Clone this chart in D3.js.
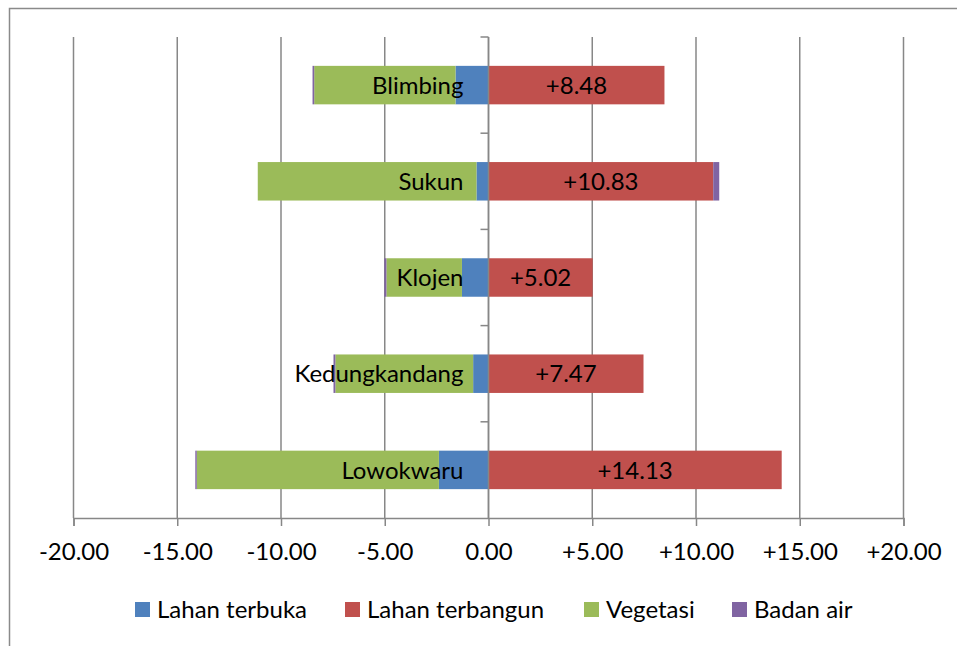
<!DOCTYPE html>
<html>
<head>
<meta charset="utf-8">
<script src="https://cdn.jsdelivr.net/npm/d3@7/dist/d3.min.js"></script>
<style>
  html, body { margin: 0; padding: 0; background: #fff; }
  svg { display: block; }
  text { font-family: Lato, "Open Sans", sans-serif; fill: #000; }
</style>
</head>
<body>
<svg id="chart" width="957" height="646"></svg>
<script>
const categories = ["Blimbing", "Sukun", "Klojen", "Kedungkandang", "Lowokwaru"];
const seriesNames = ["Lahan terbuka", "Lahan terbangun", "Vegetasi", "Badan air"];
const lahanTerbuka   = [-1.59, -0.58, -1.28, -0.74, -2.39];
const lahanTerbangun = [8.48, 10.83, 5.02, 7.47, 14.13];
const vegetasi       = [-6.81, -10.54, -3.64, -6.64, -11.67];
const badanAir       = [-0.08, 0.29, -0.10, -0.09, -0.07];
const xTicks = [-20, -15, -10, -5, 0, 5, 10, 15, 20];
const colors = ["#4F81BD", "#C0504D", "#9BBB59", "#8064A2"];

const seriesValues = [lahanTerbuka, lahanTerbangun, vegetasi, badanAir];
const rows = categories.map((c, i) => {
  const r = { cat: c };
  seriesNames.forEach((s, k) => r[s] = seriesValues[k][i]);
  return r;
});

const svg = d3.select("#chart");
const x = d3.scaleLinear().domain([-20, 20]).range([73.5, 903.5]);
const y = d3.scaleBand().domain(categories).range([37, 518]).paddingInner(0.6).paddingOuter(0.3);
const fmt = v => (v > 0 ? "+" : v < 0 ? "-" : "") + Math.abs(v).toFixed(2);
const FS = 24;

// outer border (partially visible frame)
svg.append("path")
  .attr("d", "M9.5,660 L9.5,8.5 L970,8.5")
  .attr("fill", "none").attr("stroke", "#8a8a8a").attr("stroke-width", 1.5);

// gridlines
svg.append("g").selectAll("line").data(xTicks).join("line")
  .attr("x1", d => x(d)).attr("x2", d => x(d))
  .attr("y1", 37).attr("y2", 518)
  .attr("stroke", "#878787").attr("stroke-width", 1.5);

// bars
const stack = d3.stack().keys(seriesNames).offset(d3.stackOffsetDiverging);
const stacked = stack(rows);
svg.append("g").selectAll("g").data(stacked).join("g")
  .attr("fill", (d, i) => colors[i])
  .selectAll("rect").data(d => d).join("rect")
  .attr("x", d => x(Math.min(d[0], d[1])))
  .attr("width", d => Math.abs(x(d[1]) - x(d[0])))
  .attr("y", d => y(d.data.cat))
  .attr("height", y.bandwidth());

// x axis
const xAxis = d3.axisBottom(x).tickValues(xTicks).tickSize(8).tickFormat(d => fmt(d));
const gx = svg.append("g").attr("transform", "translate(0,518)").call(xAxis);
gx.select(".domain").attr("stroke", "#878787").attr("stroke-width", 1.5);
gx.selectAll(".tick line").attr("stroke", "#878787").attr("stroke-width", 1.5);
gx.selectAll(".tick text").attr("font-size", FS).attr("dy", null).attr("y", 42)
  .attr("font-family", "Lato, sans-serif").attr("fill", "#000");

// y axis at zero
const yEdges = d3.range(categories.length + 1).map(i => 37 + i * y.step());
svg.append("line").attr("x1", x(0)).attr("x2", x(0)).attr("y1", 37).attr("y2", 518)
  .attr("stroke", "#878787").attr("stroke-width", 1.5);
svg.append("g").selectAll("line").data(yEdges.slice(0, -1)).join("line")
  .attr("x1", x(0) - 8).attr("x2", x(0)).attr("y1", d => d).attr("y2", d => d)
  .attr("stroke", "#878787").attr("stroke-width", 1.5);

// category labels
svg.append("g").selectAll("text").data(categories).join("text")
  .attr("x", x(0) - 25).attr("y", d => y(d) + y.bandwidth() / 2)
  .attr("dy", "0.36em").attr("text-anchor", "end").attr("font-size", FS)
  .text(d => d);

// data labels on Lahan terbangun
svg.append("g").selectAll("text").data(categories).join("text")
  .attr("x", (d, i) => x(lahanTerbangun[i] / 2)).attr("y", d => y(d) + y.bandwidth() / 2)
  .attr("dy", "0.36em").attr("text-anchor", "middle").attr("font-size", FS)
  .text((d, i) => fmt(lahanTerbangun[i]));

// legend
const legendX = [135, 345, 584, 732];
const lg = svg.append("g").selectAll("g").data(seriesNames).join("g")
  .attr("transform", (d, i) => `translate(${legendX[i]},602)`);
lg.append("rect").attr("width", 15).attr("height", 15).attr("fill", (d, i) => colors[i]);
lg.append("text").attr("x", 22).attr("y", 7.5).attr("dy", "0.36em").attr("font-size", FS).text(d => d);
</script>
</body>
</html>
